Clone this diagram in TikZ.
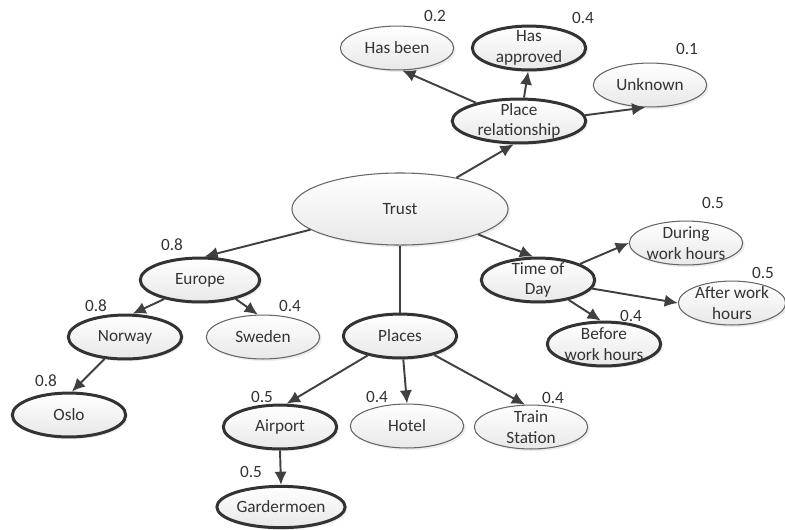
\documentclass[tikz,border=0pt]{standalone}
\usepackage{fontspec}
\setmainfont{Carlito}
\usetikzlibrary{arrows.meta,shapes.geometric,shadows}

\begin{document}
\begin{tikzpicture}[x=2cm, y=-2cm,
    every node/.style={font=\fontsize{9.8}{11.6}\selectfont, text=black!80},
    topic/.style={ellipse, draw=black!60, line width=0.6pt, top color=white, bottom color=black!9,
        minimum width=64.5pt, minimum height=25pt, inner xsep=0pt, inner ysep=-4pt, align=center,
        drop shadow={opacity=0.15, shadow xshift=1.2pt, shadow yshift=-1.2pt}},
    keytopic/.style={topic, draw=black!80, line width=1.7pt},
    wlabel/.style={inner sep=0pt},
    joint/.style={draw=black!75, line width=1.1pt},
    link/.style={joint, -{Latex[length=7.5pt,width=7pt]}}]
    \useasboundingbox (0,0) rectangle (7.85,5.29);

    % Trust and place relationship
    \node[topic, minimum width=123pt, minimum height=41pt] (trust) at (4.00,2.09) {Trust};
    \node[keytopic, minimum width=76pt] (placerel) at (5.19,1.21) {Place\\relationship};
    \node[topic] (hasbeen) at (3.97,0.48) {Has been};
    \node[keytopic] (hasapproved) at (5.29,0.48) {Has\\approved};
    \node[topic] (unknown) at (6.50,0.85) {Unknown};

    % Time of day
    \node[keytopic] (timeofday) at (5.38,2.80) {Time of\\Day};
    \node[topic] (during) at (6.86,2.43) {During\\work hours};
    \node[topic, minimum width=61pt] (after) at (7.32,3.03) {After work\\hours};
    \node[keytopic] (before) at (6.04,3.44) {Before\\work hours};

    % Europe
    \node[keytopic, minimum width=68pt] (europe) at (2.00,2.80) {Europe};
    \node[keytopic] (norway) at (1.25,3.37) {Norway};
    \node[topic] (sweden) at (2.63,3.37) {Sweden};
    \node[keytopic] (oslo) at (0.69,4.15) {Oslo};

    % Places
    \node[keytopic] (places) at (4.00,3.36) {Places};
    \node[keytopic] (airport) at (2.80,4.27) {Airport};
    \node[keytopic, minimum width=73pt, minimum height=23.5pt] (gardermoen) at (2.81,5.07) {Gardermoen};
    \node[topic] (hotel) at (4.07,4.26) {Hotel};
    \node[topic] (train) at (5.31,4.27) {Train\\Station};

    % Weights
    \foreach \nm/\x/\y/\val in {whasbeen/4.35/0.16/0.2, whasapproved/5.83/0.18/0.4, wunknown/6.87/0.49/0.1,
        wduring/7.13/2.03/0.5, wafter/7.63/2.73/0.5, wbefore/6.31/3.16/0.4,
        weurope/1.72/2.45/0.8, wnorway/0.96/3.06/0.8, wsweden/2.90/3.06/0.4, woslo/0.46/3.81/0.8,
        wairport/2.62/3.97/0.5, wgardermoen/2.51/4.72/0.5, whotel/3.77/3.97/0.4, wtrain/5.53/3.98/0.4} {
        \node[wlabel] (\nm) at (\x,\y) {\val};
    }

    % Links
    \draw[link] (placerel.157) -- (hasbeen.283);
    \draw[link] (placerel.78) -- (hasapproved.268);
    \draw[link] (placerel.5) -- (unknown.258);
    \draw[link] (trust.29) -- (placerel.257);
    \draw[link] (trust.193) -- (europe.79);
    \draw[link] (trust.-18) -- (timeofday.102);
    \draw[joint] (trust.south) -- (places.north);
    \draw[link] (timeofday.21) -- (during.west);
    \draw[link] (timeofday.-9) -- (after.west);
    \draw[link] (timeofday.-33) -- (before.98);
    \draw[link] (europe.208) -- (norway.72);
    \draw[link] (europe.332) -- (sweden.103);
    \draw[link] (norway.227) -- (oslo.83);
    \draw[link] (places.211) -- (airport.74);
    \draw[link] (places.278) -- (hotel.north);
    \draw[link] (places.331) -- (train.105);
    \draw[link] (airport.south) -- (gardermoen.north);
\end{tikzpicture}
\end{document}
